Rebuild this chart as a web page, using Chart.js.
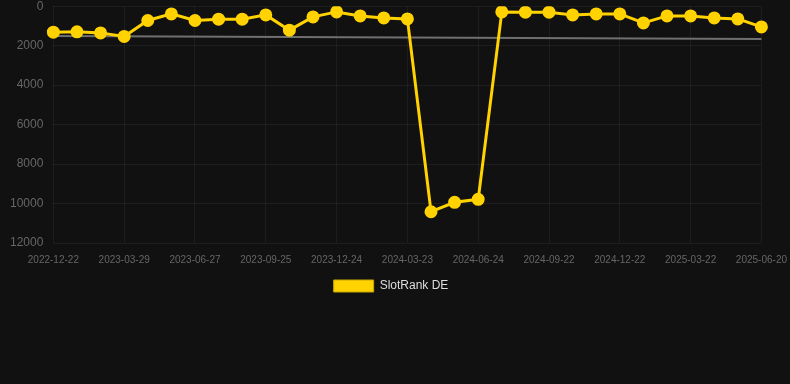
<!DOCTYPE html>
<html>
<head>
<meta charset="utf-8">
<script src="https://cdn.jsdelivr.net/npm/chart.js@4.4.1/dist/chart.umd.min.js"></script>
<style>
  html, body { margin: 0; padding: 0; background: #111111; overflow: hidden; }
  #wrap { position: relative; width: 798px; height: 313px; margin-top: -11px; }
</style>
</head>
<body>
<div id="wrap"><canvas id="c"></canvas></div>
<script>
const categories = ["2022-12-22","2023-01-25","2023-02-26","2023-03-29","2023-04-28","2023-05-28","2023-06-27","2023-07-27","2023-08-26","2023-09-25","2023-10-25","2023-11-24","2023-12-24","2024-01-23","2024-02-22","2024-03-23","2024-04-23","2024-05-24","2024-06-24","2024-07-24","2024-08-23","2024-09-22","2024-10-22","2024-11-22","2024-12-22","2025-01-21","2025-02-20","2025-03-22","2025-04-21","2025-05-21","2025-06-20"];
const slotRankDE = [1316,1301,1352,1534,724,390,724,658,658,440,1215,542,289,491,592,643,10415,9939,9787,289,304,304,440,390,390,846,491,491,592,643,1048];
const trendValues = [1504,null,null,null,null,null,null,null,null,null,null,null,null,null,null,null,null,null,null,null,null,null,null,null,null,null,null,null,null,null,1656];
const yTicks = [0,2000,4000,6000,8000,10000,12000];

const legendShift = {
  id: 'legendShift',
  afterLayout(chart) {
    if (chart.legend) { chart.legend.left -= 8; chart.legend.right -= 8; }
  }
};

new Chart(document.getElementById('c'), {
  type: 'line',
  data: {
    labels: categories,
    datasets: [
      {
        label: 'SlotRank DE',
        data: slotRankDE,
        borderColor: '#FFD200',
        backgroundColor: '#FFD200',
        borderWidth: 3,
        pointRadius: 5,
        pointHoverRadius: 6,
        pointBackgroundColor: '#FFD200',
        pointBorderColor: '#FFD200',
        tension: 0,
        order: 1
      },
      {
        label: 'trend',
        data: trendValues,
        borderColor: '#707070',
        borderWidth: 2,
        pointRadius: 0,
        spanGaps: true,
        order: 2
      }
    ]
  },
  plugins: [legendShift],
  options: {
    responsive: true,
    maintainAspectRatio: false,
    animation: false,
    layout: { padding: { left: 0, right: 0, top: 0, bottom: 0 } },
    plugins: {
      legend: {
        position: 'bottom',
        labels: {
          filter: (item) => item.datasetIndex === 0,
          generateLabels: (chart) => {
            const items = Chart.defaults.plugins.legend.labels.generateLabels(chart);
            items.forEach(it => { it.lineWidth = 1; it.strokeStyle = '#c9a600'; });
            return items;
          },
          boxWidth: 40,
          boxHeight: 12,
          padding: 3,
          color: '#dddddd',
          font: { family: 'Liberation Sans, Arial, sans-serif', size: 12 }
        }
      },
      tooltip: { enabled: false }
    },
    scales: {
      x: {
        grid: {
          color: (ctx) => (ctx.index % 3 === 0 ? 'rgba(255,255,255,0.05)' : 'rgba(0,0,0,0)'),
          drawTicks: false
        },
        border: { display: false },
        ticks: {
          autoSkip: false,
          maxRotation: 0,
          minRotation: 0,
          padding: 11,
          color: '#666666',
          font: { family: 'Liberation Sans, Arial, sans-serif', size: 10 },
          callback: function(v, i) { return i % 3 === 0 ? categories[i] : ''; }
        }
      },
      y: {
        reverse: true,
        min: 0,
        max: 12000,
        afterBuildTicks: (axis) => { axis.ticks = yTicks.map(v => ({ value: v })); },
        grid: { color: 'rgba(255,255,255,0.05)', drawTicks: false },
        border: { display: false },
        ticks: {
          padding: 10,
          color: '#666666',
          font: { family: 'Liberation Sans, Arial, sans-serif', size: 12 },
          callback: (v) => String(v)
        }
      }
    }
  }
});
</script>
</body>
</html>
